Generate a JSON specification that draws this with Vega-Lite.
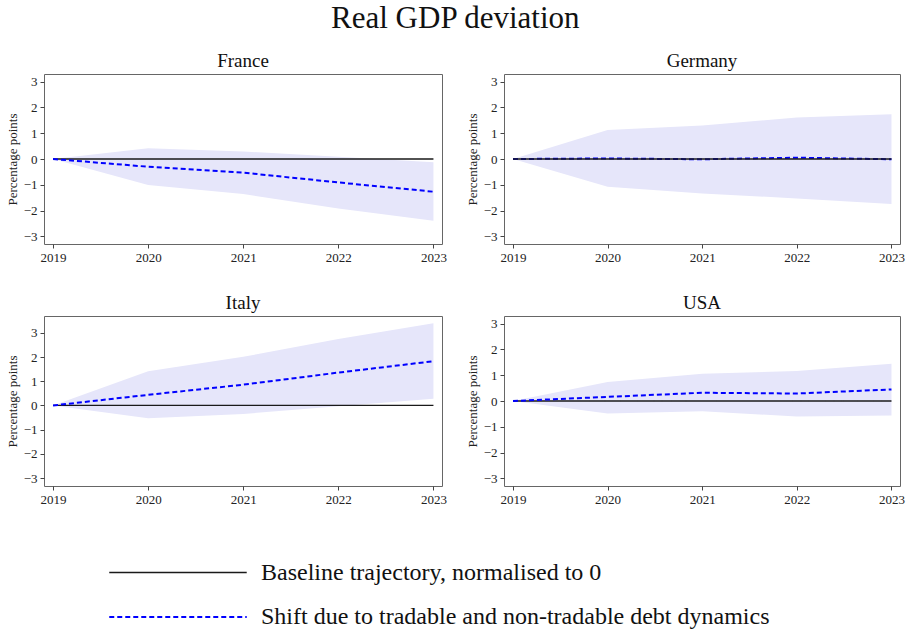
{
  "$schema": "https://vega.github.io/schema/vega-lite/v6.json",
  "padding": {"left": 5, "top": 2, "right": 5, "bottom": 5},
  "title": {"text": "Real GDP deviation", "fontSize": 31, "font": "Liberation Serif", "fontWeight": "normal", "color": "#111", "anchor": "middle", "offset": 17},
  "datasets": {
    "gdp": [
      {"country": "France", "year": 2019, "lower": 0, "upper": 0, "baseline": 0, "shift": 0},
      {"country": "France", "year": 2020, "lower": -1.01, "upper": 0.42, "baseline": 0, "shift": -0.30},
      {"country": "France", "year": 2021, "lower": -1.36, "upper": 0.29, "baseline": 0, "shift": -0.53},
      {"country": "France", "year": 2022, "lower": -1.92, "upper": 0.09, "baseline": 0, "shift": -0.91},
      {"country": "France", "year": 2023, "lower": -2.40, "upper": -0.13, "baseline": 0, "shift": -1.27},
      {"country": "Germany", "year": 2019, "lower": 0, "upper": 0, "baseline": 0, "shift": 0},
      {"country": "Germany", "year": 2020, "lower": -1.08, "upper": 1.13, "baseline": 0, "shift": 0.02},
      {"country": "Germany", "year": 2021, "lower": -1.34, "upper": 1.30, "baseline": 0, "shift": -0.01},
      {"country": "Germany", "year": 2022, "lower": -1.53, "upper": 1.61, "baseline": 0, "shift": 0.05},
      {"country": "Germany", "year": 2023, "lower": -1.75, "upper": 1.74, "baseline": 0, "shift": -0.01},
      {"country": "Italy", "year": 2019, "lower": 0, "upper": 0, "baseline": 0, "shift": 0},
      {"country": "Italy", "year": 2020, "lower": -0.53, "upper": 1.42, "baseline": 0, "shift": 0.44},
      {"country": "Italy", "year": 2021, "lower": -0.35, "upper": 2.01, "baseline": 0, "shift": 0.86},
      {"country": "Italy", "year": 2022, "lower": -0.03, "upper": 2.75, "baseline": 0, "shift": 1.36},
      {"country": "Italy", "year": 2023, "lower": 0.28, "upper": 3.40, "baseline": 0, "shift": 1.83},
      {"country": "USA", "year": 2019, "lower": 0, "upper": 0, "baseline": 0, "shift": 0},
      {"country": "USA", "year": 2020, "lower": -0.49, "upper": 0.74, "baseline": 0, "shift": 0.16},
      {"country": "USA", "year": 2021, "lower": -0.40, "upper": 1.06, "baseline": 0, "shift": 0.32},
      {"country": "USA", "year": 2022, "lower": -0.60, "upper": 1.16, "baseline": 0, "shift": 0.29},
      {"country": "USA", "year": 2023, "lower": -0.56, "upper": 1.45, "baseline": 0, "shift": 0.45}
    ]
  },
  "data": {"name": "gdp"},
  "columns": 2,
  "spacing": {"column": 18, "row": 28},
  "concat": [
    {
      "title": "France",
      "width": 398, "height": 170,
      "transform": [{"filter": "datum.country == 'France'"}],
      "layer": [
        {"mark": {"type": "area", "color": "#e6e6fa", "opacity": 1},
         "encoding": {
           "x": {"field": "year", "type": "quantitative", "scale": {"domain": [2018.905, 2023.09], "nice": false, "zero": false}, "axis": {"tickCount": 5, "format": "d", "title": null, "labelOverlap": false}},
           "y": {"field": "lower", "type": "quantitative", "scale": {"domain": [-3.3, 3.3], "nice": false, "zero": false}, "axis": {"tickCount": 7, "title": "Percentage points", "labelOverlap": false}},
           "y2": {"field": "upper"}}},
        {"transform": [{"fold": ["baseline", "shift"], "as": ["series", "value"]}],
         "mark": {"type": "line"},
         "encoding": {
           "x": {"field": "year", "type": "quantitative"},
           "y": {"field": "value", "type": "quantitative"},
           "detail": {"field": "series"},
           "color": {"field": "series", "type": "nominal"},
           "strokeDash": {"field": "series", "type": "nominal", "scale": {"domain": ["baseline", "shift"], "range": [[1, 0], [5, 3]]}, "legend": null},
           "strokeWidth": {"field": "series", "type": "nominal", "scale": {"domain": ["baseline", "shift"], "range": [1.3, 2]}, "legend": null}}}
      ]
    },
    {
      "title": "Germany",
      "width": 396, "height": 170,
      "transform": [{"filter": "datum.country == 'Germany'"}],
      "layer": [
        {"mark": {"type": "area", "color": "#e6e6fa", "opacity": 1},
         "encoding": {
           "x": {"field": "year", "type": "quantitative", "scale": {"domain": [2018.905, 2023.09], "nice": false, "zero": false}, "axis": {"tickCount": 5, "format": "d", "title": null, "labelOverlap": false}},
           "y": {"field": "lower", "type": "quantitative", "scale": {"domain": [-3.3, 3.3], "nice": false, "zero": false}, "axis": {"tickCount": 7, "title": "Percentage points", "labelOverlap": false}},
           "y2": {"field": "upper"}}},
        {"transform": [{"fold": ["shift", "baseline"], "as": ["series", "value"]}],
         "mark": {"type": "line"},
         "encoding": {
           "x": {"field": "year", "type": "quantitative"},
           "y": {"field": "value", "type": "quantitative"},
           "detail": {"field": "series"},
           "color": {"field": "series", "type": "nominal"},
           "strokeDash": {"field": "series", "type": "nominal", "scale": {"domain": ["baseline", "shift"], "range": [[1, 0], [5, 3]]}, "legend": null},
           "strokeWidth": {"field": "series", "type": "nominal", "scale": {"domain": ["baseline", "shift"], "range": [1.3, 2]}, "legend": null}}}
      ]
    },
    {
      "title": "Italy",
      "width": 398, "height": 170,
      "transform": [{"filter": "datum.country == 'Italy'"}],
      "layer": [
        {"mark": {"type": "area", "color": "#e6e6fa", "opacity": 1},
         "encoding": {
           "x": {"field": "year", "type": "quantitative", "scale": {"domain": [2018.905, 2023.09], "nice": false, "zero": false}, "axis": {"tickCount": 5, "format": "d", "title": null, "labelOverlap": false}},
           "y": {"field": "lower", "type": "quantitative", "scale": {"domain": [-3.33, 3.7], "nice": false, "zero": false}, "axis": {"tickCount": 7, "title": "Percentage points", "labelOverlap": false}},
           "y2": {"field": "upper"}}},
        {"transform": [{"fold": ["baseline", "shift"], "as": ["series", "value"]}],
         "mark": {"type": "line"},
         "encoding": {
           "x": {"field": "year", "type": "quantitative"},
           "y": {"field": "value", "type": "quantitative"},
           "detail": {"field": "series"},
           "color": {"field": "series", "type": "nominal"},
           "strokeDash": {"field": "series", "type": "nominal", "scale": {"domain": ["baseline", "shift"], "range": [[1, 0], [5, 3]]}, "legend": null},
           "strokeWidth": {"field": "series", "type": "nominal", "scale": {"domain": ["baseline", "shift"], "range": [1.3, 2]}, "legend": null}}}
      ]
    },
    {
      "title": "USA",
      "width": 396, "height": 170,
      "transform": [{"filter": "datum.country == 'USA'"}],
      "layer": [
        {"mark": {"type": "area", "color": "#e6e6fa", "opacity": 1},
         "encoding": {
           "x": {"field": "year", "type": "quantitative", "scale": {"domain": [2018.905, 2023.09], "nice": false, "zero": false}, "axis": {"tickCount": 5, "format": "d", "title": null, "labelOverlap": false}},
           "y": {"field": "lower", "type": "quantitative", "scale": {"domain": [-3.3, 3.3], "nice": false, "zero": false}, "axis": {"tickCount": 7, "title": "Percentage points", "labelOverlap": false}},
           "y2": {"field": "upper"}}},
        {"transform": [{"fold": ["baseline", "shift"], "as": ["series", "value"]}],
         "mark": {"type": "line"},
         "encoding": {
           "x": {"field": "year", "type": "quantitative"},
           "y": {"field": "value", "type": "quantitative"},
           "detail": {"field": "series"},
           "color": {"field": "series", "type": "nominal", "scale": {"domain": ["baseline", "shift"], "range": ["#1a1a1a", "#0000ff"]},
             "legend": {"title": null, "orient": "none", "legendX": 64, "legendY": 484, "direction": "vertical", "symbolType": "M-1,0H9", "symbolSize": 756, "symbolStrokeWidth": 3, "labelFontSize": 24, "labelFont": "Liberation Serif", "labelColor": "#111", "labelOffset": 123, "rowPadding": 17, "labelLimit": 700,
               "labelExpr": "datum.value == 'baseline' ? 'Baseline trajectory, normalised to 0' : 'Shift due to tradable and non-tradable debt dynamics'",
               "encode": {"symbols": {"update": {"strokeDash": {"signal": "datum.value == 'shift' ? [12, 6] : [1, 0]"}}}}}},
           "strokeDash": {"field": "series", "type": "nominal", "scale": {"domain": ["baseline", "shift"], "range": [[1, 0], [5, 3]]}, "legend": null},
           "strokeWidth": {"field": "series", "type": "nominal", "scale": {"domain": ["baseline", "shift"], "range": [1.3, 2]}, "legend": null}}}
      ]
    }
  ],
  "config": {
    "font": "Liberation Serif",
    "view": {"stroke": "#666", "strokeWidth": 1},
    "title": {"fontSize": 19, "font": "Liberation Serif", "fontWeight": "normal", "color": "#111", "offset": 3},
    "axis": {"grid": false, "domain": false, "labelOverlap": false, "tickColor": "#444", "tickSize": 4, "labelFont": "Liberation Serif", "labelFontSize": 13, "labelColor": "#222", "titleFont": "Liberation Serif", "titleFontSize": 13, "titleFontWeight": "normal", "titleColor": "#222"},
    "axisY": {"labelPadding": 3, "titlePadding": 4},
    "axisX": {"labelPadding": 3}
  }
}
